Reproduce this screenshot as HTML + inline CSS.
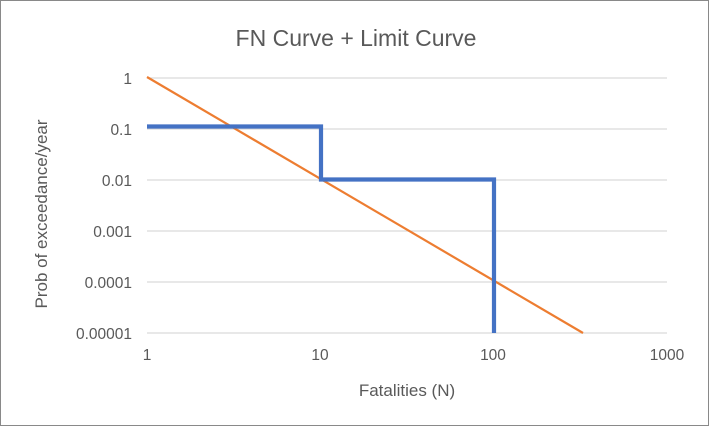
<!DOCTYPE html>
<html><head><style>body{margin:0}svg{display:block}</style></head><body>
<svg width="709" height="426" xmlns="http://www.w3.org/2000/svg" font-family="Liberation Sans, sans-serif">
<rect x="0.5" y="0.5" width="708" height="425" fill="#fff" stroke="#898989"/>
<text x="356" y="46" text-anchor="middle" font-size="23" fill="#595959">FN Curve + Limit Curve</text>
<g stroke="#d9d9d9" stroke-width="1.3">
<line x1="147" x2="667" y1="78" y2="78"/><line x1="147" x2="667" y1="129" y2="129"/>
<line x1="147" x2="667" y1="180" y2="180"/><line x1="147" x2="667" y1="231" y2="231"/>
<line x1="147" x2="667" y1="282" y2="282"/><line x1="147" x2="667" y1="333" y2="333"/>
</g>
<g font-size="15.5" fill="#595959" text-anchor="end">
<text x="132" y="84">1</text><text x="132" y="135">0.1</text><text x="132" y="186">0.01</text>
<text x="132" y="237">0.001</text><text x="132" y="288">0.0001</text><text x="132" y="339">0.00001</text>
</g>
<g font-size="15.5" fill="#595959" text-anchor="middle">
<text x="147" y="360">1</text><text x="320" y="360">10</text><text x="493" y="360">100</text><text x="667" y="360">1000</text>
</g>
<text x="407" y="396" text-anchor="middle" font-size="17" fill="#595959">Fatalities (N)</text>
<text transform="translate(47,214) rotate(-90)" text-anchor="middle" font-size="17" fill="#595959">Prob of exceedance/year</text>
<polyline points="147,77 583,333" fill="none" stroke="#ED7D31" stroke-width="2.2"/>
<polyline points="147,126.5 321,126.5 321,179.5 494,179.5 494,333" fill="none" stroke="#4472C4" stroke-width="4.2"/>
</svg>
</body></html>
